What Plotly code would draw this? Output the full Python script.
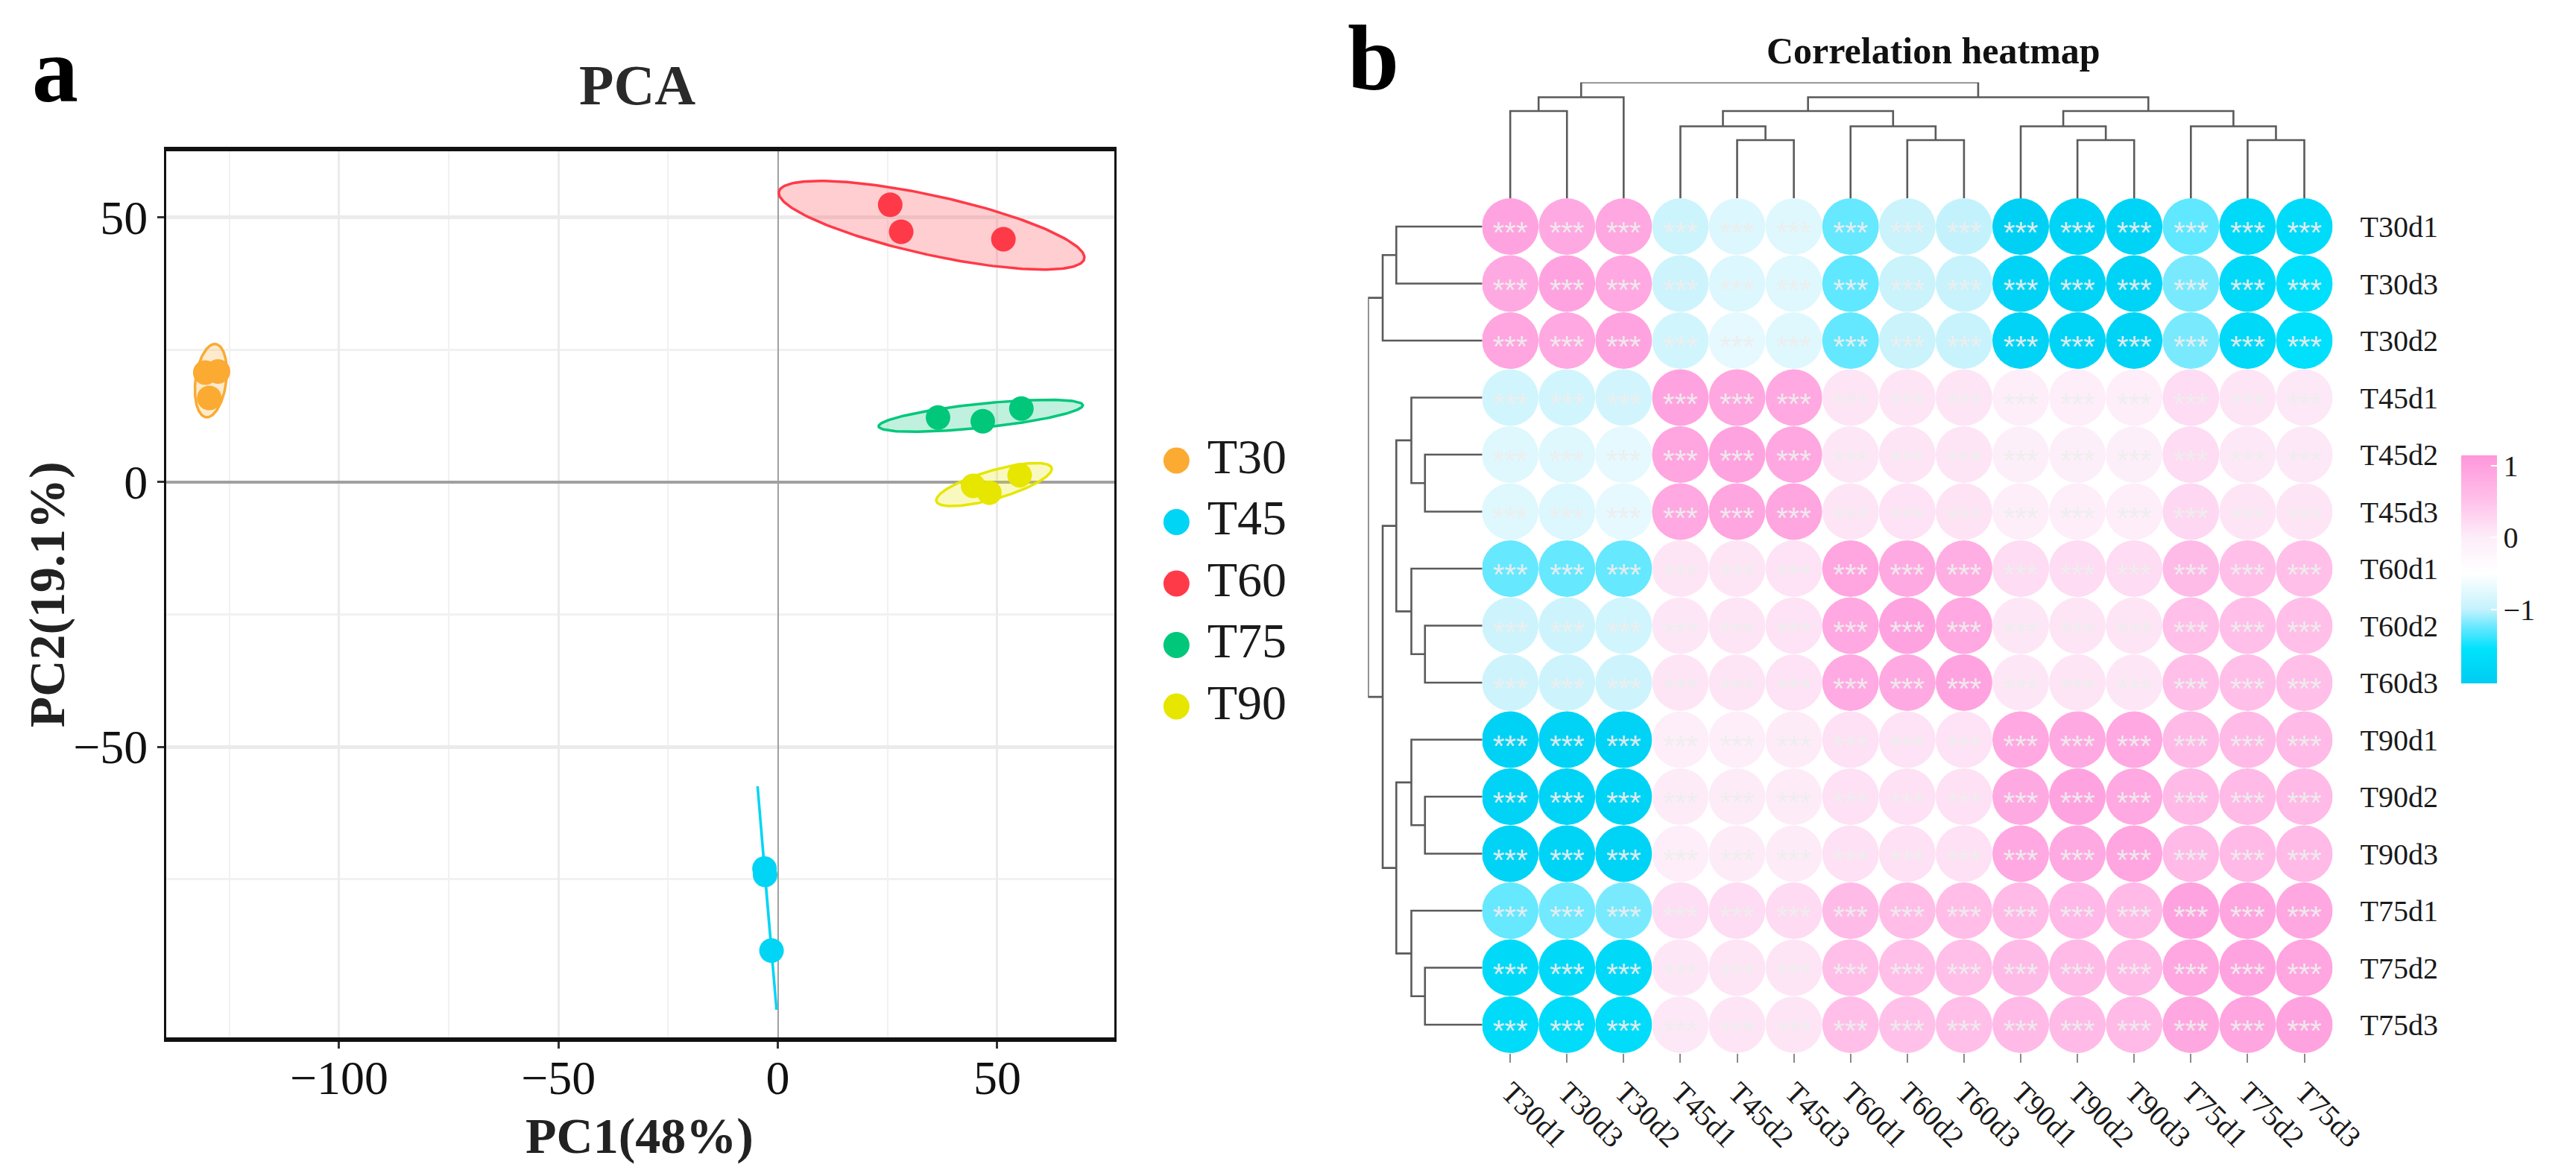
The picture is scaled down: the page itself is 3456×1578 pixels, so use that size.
import numpy as np
import plotly.graph_objects as go

W, H = 3456, 1578
SERIF = "Liberation Serif, Times New Roman, serif"

# ---------------- PCA data ----------------
groups = ["T30", "T45", "T60", "T75", "T90"]
group_colors = ["#FBAA32", "#00D5F5", "#FF3A48", "#00C77A", "#E6E600"]
pc1_T30 = [-130.5, -127.6, -129.6]
pc2_T30 = [20.7, 20.9, 15.9]
pc1_T45 = [-3.05, -2.9, -1.45]
pc2_T45 = [-73.0, -74.2, -88.5]
pc1_T60 = [25.6, 28.1, 51.4]
pc2_T60 = [52.4, 47.3, 45.9]
pc1_T75 = [36.5, 46.7, 55.5]
pc2_T75 = [12.2, 11.5, 13.9]
pc1_T90 = [44.5, 48.2, 55.1]
pc2_T90 = [-0.7, -2.0, 1.3]
pc1 = [pc1_T30, pc1_T45, pc1_T60, pc1_T75, pc1_T90]
pc2 = [pc2_T30, pc2_T45, pc2_T60, pc2_T75, pc2_T90]
x_ticks = [-100, -50, 0, 50]
y_ticks = [-50, 0, 50]
x_minor = [-125, -75, -25, 25]
y_minor = [-75, -25, 25]
ellipse_level = 0.95

# ---------------- Correlation heatmap data ----------------
labels = ["T30d1", "T30d3", "T30d2", "T45d1", "T45d2", "T45d3", "T60d1", "T60d2",
          "T60d3", "T90d1", "T90d2", "T90d3", "T75d1", "T75d2", "T75d3"]
corr = [
    [0.95, 0.86, 0.90, -0.93, -0.80, -0.78, -1.25, -0.95, -1.00, -1.92, -1.86, -1.86, -1.27, -1.75, -1.70],
    [0.86, 0.95, 0.88, -0.92, -0.80, -0.78, -1.27, -0.95, -0.97, -1.88, -1.86, -1.86, -1.20, -1.75, -1.62],
    [0.92, 0.88, 0.95, -0.90, -0.72, -0.77, -1.26, -0.95, -0.97, -1.88, -1.86, -1.86, -1.20, -1.75, -1.62],
    [-0.90, -0.90, -0.88, 0.95, 0.90, 0.88, 0.10, 0.10, 0.10, 0.00, 0.00, 0.00, 0.20, 0.10, 0.07],
    [-0.78, -0.78, -0.72, 0.92, 0.95, 0.90, 0.08, 0.10, 0.10, -0.02, -0.02, -0.02, 0.20, 0.07, 0.07],
    [-0.78, -0.80, -0.72, 0.88, 0.92, 0.92, 0.10, 0.12, 0.13, 0.00, 0.00, 0.00, 0.25, 0.10, 0.10],
    [-1.25, -1.25, -1.25, 0.10, 0.10, 0.12, 0.92, 0.86, 0.80, 0.20, 0.20, 0.20, 0.60, 0.55, 0.55],
    [-0.92, -0.92, -0.90, 0.08, 0.10, 0.12, 0.88, 0.95, 0.88, 0.08, 0.10, 0.10, 0.55, 0.55, 0.55],
    [-0.92, -0.92, -0.92, 0.10, 0.10, 0.12, 0.85, 0.86, 0.95, 0.08, 0.10, 0.08, 0.55, 0.55, 0.55],
    [-1.90, -1.88, -1.88, 0.00, 0.00, 0.02, 0.15, 0.12, 0.12, 0.88, 0.86, 0.88, 0.62, 0.62, 0.62],
    [-1.88, -1.86, -1.86, 0.02, 0.02, 0.02, 0.15, 0.15, 0.15, 0.86, 0.95, 0.88, 0.62, 0.62, 0.62],
    [-1.88, -1.86, -1.86, 0.00, 0.02, 0.02, 0.15, 0.15, 0.15, 0.88, 0.86, 0.92, 0.62, 0.62, 0.62],
    [-1.25, -1.22, -1.20, 0.18, 0.20, 0.22, 0.60, 0.58, 0.58, 0.62, 0.65, 0.62, 0.95, 0.92, 0.90],
    [-1.72, -1.72, -1.72, 0.08, 0.10, 0.10, 0.55, 0.55, 0.55, 0.60, 0.62, 0.62, 0.90, 0.95, 0.92],
    [-1.70, -1.68, -1.68, 0.07, 0.10, 0.10, 0.55, 0.52, 0.55, 0.62, 0.62, 0.62, 0.90, 0.92, 0.95],
]
signif = "***"
cbar_ticks = [-1, 0, 1]
cbar_min, cbar_max = -2.03, 1.145
scale_values = [-2.03, -1.55, -1.25, -1.0, -0.5, 0.0, 0.5, 1.145]
scale_colors = ["#00CCF2", "#00E2FC", "#66E8FF", "#C4F2FC", "#FFFFFF", "#FDEEF9", "#FFC2EA", "#FF96DB"]

# hierarchical clustering (same tree for rows and columns): (node, left, right, height)
merges = [
    ("n0", "T30d1", "T30d3", 1.17),
    ("n1", "n0", "T30d2", 1.355),
    ("n2", "T45d2", "T45d3", 0.78),
    ("n3", "T45d1", "n2", 0.965),
    ("n4", "T60d2", "T60d3", 0.78),
    ("n5", "T60d1", "n4", 0.965),
    ("n6", "n3", "n5", 1.17),
    ("n7", "T90d2", "T90d3", 0.78),
    ("n8", "T90d1", "n7", 0.965),
    ("n9", "T75d2", "T75d3", 0.78),
    ("n10", "T75d1", "n9", 0.965),
    ("n11", "n8", "n10", 1.17),
    ("n12", "n6", "n11", 1.355),
    ("n13", "n1", "n12", 1.555),
]


def px_x(p):
    return p / W


def px_y(p):
    return 1 - p / H


def ellipse(x, y, level, n=200):
    x = np.asarray(x, float)
    y = np.asarray(y, float)
    cov = np.cov(np.vstack([x, y]))
    vals, vecs = np.linalg.eigh(cov)
    vals = np.clip(vals, 1e-6, None)
    r = np.sqrt(-2 * np.log(1 - level))
    t = np.linspace(0, 2 * np.pi, n)
    circ = np.vstack([np.cos(t), np.sin(t)])
    pts = vecs @ (np.sqrt(vals)[:, None] * circ) * r
    return pts[0] + x.mean(), pts[1] + y.mean()


def hex_rgba(h, a):
    h = h.lstrip("#")
    return "rgba(%d,%d,%d,%.2f)" % (int(h[0:2], 16), int(h[2:4], 16), int(h[4:6], 16), a)


fig = go.Figure()

# ---- PCA ellipses ----
for g, col, xs, ys in zip(groups, group_colors, pc1, pc2):
    ex, ey = ellipse(xs, ys, ellipse_level)
    fig.add_trace(go.Scatter(x=ex, y=ey, mode="lines", fill="toself",
                             fillcolor=hex_rgba(col, 0.25), line=dict(color=col, width=3.5),
                             hoverinfo="skip", showlegend=False, xaxis="x", yaxis="y"))
# ---- PCA points ----
for g, col, xs, ys in zip(groups, group_colors, pc1, pc2):
    fig.add_trace(go.Scatter(x=xs, y=ys, mode="markers", name=g,
                             marker=dict(color=col, size=33, line=dict(width=0)),
                             showlegend=False, xaxis="x", yaxis="y"))

# ---- manual legend ----
gidx = list(range(len(groups)))
fig.add_trace(go.Scatter(x=[0] * len(groups), y=gidx, mode="markers",
                         marker=dict(color=group_colors, size=35), cliponaxis=False,
                         hoverinfo="skip", showlegend=False, xaxis="x5", yaxis="y5"))
fig.add_trace(go.Scatter(x=[42] * len(groups), y=gidx, mode="text", text=groups,
                         textposition="middle right", cliponaxis=False,
                         textfont=dict(family=SERIF, size=66, color="#1A1A1A"),
                         hoverinfo="skip", showlegend=False, xaxis="x5", yaxis="y5"))

# ---- dendrograms ----
pos = {lab: float(i) for i, lab in enumerate(labels)}
hgt = {lab: 0.0 for lab in labels}
dx, dy = [], []
for name, a, b, hh in merges:
    dx += [pos[a], pos[a], pos[b], pos[b], None]
    dy += [hgt[a], hh, hh, hgt[b], None]
    pos[name] = (pos[a] + pos[b]) / 2
    hgt[name] = hh
root_h = max(m[3] for m in merges)
fig.add_trace(go.Scatter(x=dx, y=dy, mode="lines", line=dict(color="#5A5A5A", width=2.6),
                         hoverinfo="skip", showlegend=False, xaxis="x3", yaxis="y3"))
fig.add_trace(go.Scatter(x=dy, y=dx, mode="lines", line=dict(color="#5A5A5A", width=2.6),
                         hoverinfo="skip", showlegend=False, xaxis="x4", yaxis="y4"))

# ---- correlation circles ----
n = len(labels)
cx, cy, cv = [], [], []
for i in range(n):
    for j in range(n):
        cx.append(j)
        cy.append(i)
        cv.append(corr[i][j])
span = cbar_max - cbar_min
colorscale = [[(v - cbar_min) / span, c] for v, c in zip(scale_values, scale_colors)]
fig.add_trace(go.Scatter(
    x=cx, y=cy, mode="markers",
    marker=dict(size=76, color=cv, colorscale=colorscale, cmin=cbar_min, cmax=cbar_max,
                line=dict(width=0), showscale=True,
                colorbar=dict(x=px_x(3339), xanchor="left", y=px_y(756), yanchor="middle",
                              len=306, lenmode="pixels", thickness=48, thicknessmode="pixels",
                              tickvals=cbar_ticks, ticks="inside", tickcolor="white",
                              ticklen=8, tickwidth=2, outlinewidth=0, xpad=0, ypad=0,
                              tickfont=dict(family=SERIF, size=40, color="#1A1A1A"))),
    hoverinfo="skip", showlegend=False, xaxis="x2", yaxis="y2"))
star_off = 0.16
fig.add_trace(go.Scatter(x=cx, y=[v + star_off for v in cy], mode="text", text=[signif] * len(cx),
                         textfont=dict(family="Liberation Sans, Arial, sans-serif", size=40,
                                       color="rgba(238,238,238,0.95)"),
                         hoverinfo="skip", showlegend=False, xaxis="x2", yaxis="y2"))

# ---------------- layout ----------------
tickfont_pca = dict(family=SERIF, size=64, color="#111111")
hm_x0, hm_x1 = 2007.4, 3164.6
hm_y0, hm_y1 = 257.75, 1405.25
leaf_edge_top = 258
leaf_edge_left = 2008
dend_px = 155.5

fig.update_layout(
    width=W, height=H, margin=dict(l=0, r=0, t=0, b=0),
    paper_bgcolor="white", plot_bgcolor="white", showlegend=False,
    xaxis=dict(domain=[px_x(218), px_x(1507)], range=[-139.4, 76.6], anchor="y",
               tickmode="array", tickvals=x_ticks,
               showgrid=True, gridcolor="#EBEBEB", gridwidth=3,
               minor=dict(tickmode="array", tickvals=x_minor, showgrid=True,
                          gridcolor="#F1F1F1", gridwidth=2, ticks=""),
               zeroline=True, zerolinecolor="#A0A0A0", zerolinewidth=2,
               showline=True, mirror=True, linecolor="#111111", linewidth=6,
               ticks="outside", ticklen=9, tickwidth=3, tickcolor="#333333",
               ticklabelstandoff=-16, tickfont=tickfont_pca),
    yaxis=dict(domain=[px_y(1384), px_y(195)], range=[-104.9, 62.5], anchor="x",
               tickmode="array", tickvals=y_ticks,
               showgrid=True, gridcolor="#EBEBEB", gridwidth=5,
               minor=dict(tickmode="array", tickvals=y_minor, showgrid=True,
                          gridcolor="#F1F1F1", gridwidth=3, ticks=""),
               zeroline=True, zerolinecolor="#A0A0A0", zerolinewidth=4,
               showline=True, mirror=True, linecolor="#111111", linewidth=3,
               ticks="outside", ticklen=9, tickwidth=3, tickcolor="#333333",
               tickfont=tickfont_pca),
    xaxis2=dict(domain=[px_x(hm_x0), px_x(hm_x1)], range=[-0.5, n - 0.5], anchor="y2",
                tickmode="array", tickvals=list(range(n)), ticktext=labels, tickangle=45,
                ticks="outside", ticklen=12, tickwidth=2, tickcolor="#8A8A8A",
                showgrid=False, zeroline=False, showline=False,
                tickfont=dict(family=SERIF, size=40, color="#1A1A1A")),
    yaxis2=dict(domain=[px_y(hm_y1), px_y(hm_y0)], range=[n - 0.5, -0.5], anchor="x2",
                side="right", tickmode="array", tickvals=list(range(n)), ticktext=labels,
                ticks="outside", ticklen=28, tickcolor="rgba(0,0,0,0)",
                showgrid=False, zeroline=False, showline=False,
                tickfont=dict(family=SERIF, size=40, color="#1A1A1A")),
    xaxis3=dict(domain=[px_x(hm_x0), px_x(hm_x1)], range=[-0.5, n - 0.5], anchor="y3",
                visible=False),
    yaxis3=dict(domain=[px_y(leaf_edge_top), px_y(leaf_edge_top - dend_px)],
                range=[0, root_h], anchor="x3", visible=False),
    xaxis4=dict(domain=[px_x(leaf_edge_left - dend_px), px_x(leaf_edge_left)],
                range=[root_h, 0], anchor="y4", visible=False),
    yaxis4=dict(domain=[px_y(hm_y1), px_y(hm_y0)], range=[n - 0.5, -0.5], anchor="x4",
                visible=False),
    xaxis5=dict(domain=[px_x(1592), px_x(1850)], range=[0, 258], anchor="y5", visible=False),
    yaxis5=dict(domain=[px_y(981.25), px_y(568.75)], range=[len(groups) - 0.5, -0.5],
                anchor="x5", visible=False),
)

ann = [
    dict(text="<b>a</b>", x=px_x(67), y=px_y(86), font=dict(family=SERIF, size=124, color="black")),
    dict(text="<b>b</b>", x=px_x(1860), y=px_y(70), font=dict(family=SERIF, size=124, color="black")),
    dict(text="<b>PCA</b>", x=px_x(859), y=px_y(106), font=dict(family=SERIF, size=76, color="#2A2A2A")),
    dict(text="<b>Correlation heatmap</b>", x=px_x(2622), y=px_y(60),
         font=dict(family=SERIF, size=50, color="#111111")),
    dict(text="<b>PC1(48%)</b>", x=px_x(862), y=px_y(1516), font=dict(family=SERIF, size=68, color="#222222")),
    dict(text="<b>PC2(19.1%)</b>", x=px_x(56), y=px_y(790), textangle=-90,
         font=dict(family=SERIF, size=68, color="#222222")),
]
for a in ann:
    a.update(xref="paper", yref="paper", xanchor="center", yanchor="middle", showarrow=False)
fig.update_layout(annotations=ann)

fig.write_html("out.html")
